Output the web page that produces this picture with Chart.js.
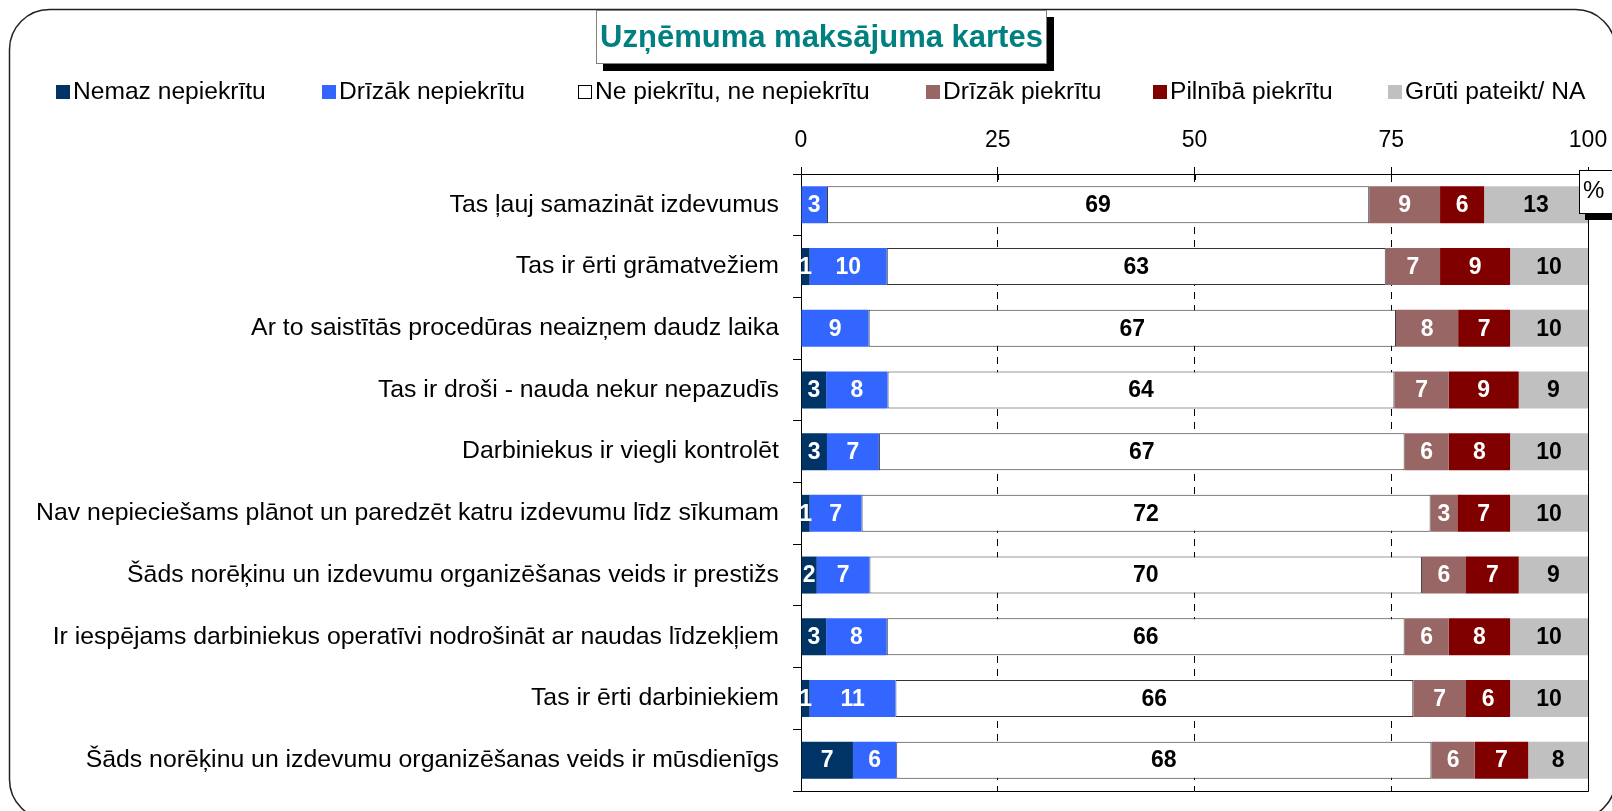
<!DOCTYPE html>
<html lang="lv">
<head>
  <meta charset="UTF-8">
  <title>Uzņēmuma maksājuma kartes</title>
  <script src="https://cdn.jsdelivr.net/npm/chart.js"></script>
  <style>
    * { margin: 0; padding: 0; box-sizing: border-box; }
    body { background: #fff; overflow: hidden; }
    canvas { display: block; }
  </style>
</head>
<body>
  <canvas id="chart" width="1612" height="811"></canvas>

  <script>
    const titleText = 'Uzņēmuma maksājuma kartes';

    const categories = [
      'Tas ļauj samazināt izdevumus',
      'Tas ir ērti grāmatvežiem',
      'Ar to saistītās procedūras neaizņem daudz laika',
      'Tas ir droši - nauda nekur nepazudīs',
      'Darbiniekus ir viegli kontrolēt',
      'Nav nepieciešams plānot un paredzēt katru izdevumu līdz sīkumam',
      'Šāds norēķinu un izdevumu organizēšanas veids ir prestižs',
      'Ir iespējams darbiniekus operatīvi nodrošināt ar naudas līdzekļiem',
      'Tas ir ērti darbiniekiem',
      'Šāds norēķinu un izdevumu organizēšanas veids ir mūsdienīgs'
    ];

    const seriesNames = [
      'Nemaz nepiekrītu',
      'Drīzāk nepiekrītu',
      'Ne piekrītu, ne nepiekrītu',
      'Drīzāk piekrītu',
      'Pilnībā piekrītu',
      'Grūti pateikt/ NA'
    ];

    // percentages (labels show them rounded)
    const nemaz      = [0,   1.1, 0,   3.2,  3.3,  1.1,  2.0,  3.2,  1.1,  6.6];
    const drizakNe   = [3.3, 9.8, 8.6, 7.8,  6.6,  6.6,  6.7,  7.7,  10.9, 5.5];
    const neitrali   = [68.9, 63.4, 67.0, 64.4, 66.8, 72.3, 70.2, 65.8, 65.8, 68.0];
    const drizakJa   = [9.0, 6.9, 7.9, 6.9,  5.6,  3.4,  5.6,  5.6,  6.7,  5.5];
    const pilnibaJa  = [5.6, 8.9, 6.6, 8.9,  7.8,  6.7,  6.7,  7.8,  5.6,  6.8];
    const gruti      = [13.2, 9.9, 9.9, 8.8, 9.9,  9.9,  8.8,  9.9,  9.9,  7.6];

    const xTicks = [0, 25, 50, 75, 100];

    const seriesColors = ['#003366', '#3366FF', '#FFFFFF', '#996666', '#800000', '#C0C0C0'];
    const labelColors = ['#fff', '#fff', '#000', '#fff', '#fff', '#000'];
    const seriesValues = [nemaz, drizakNe, neitrali, drizakJa, pilnibaJa, gruti];

    const FONT = "'Liberation Sans', Arial, sans-serif";

    const datasets = seriesValues.map((vals, i) => ({
      label: seriesNames[i],
      data: vals,
      backgroundColor: seriesColors[i],
      borderColor: i === 2 ? '#333333' : seriesColors[i],
      borderWidth: i === 2 ? 1 : 0,
      borderSkipped: false,
      barPercentage: 0.6,
      categoryPercentage: 1.0
    }));

    const backgroundPlugin = {
      id: 'bg',
      beforeDraw(chart) {
        const ctx = chart.ctx;
        ctx.save();
        ctx.fillStyle = '#fff';
        ctx.fillRect(0, 0, chart.width, chart.height);
        ctx.restore();
      }
    };

    // value labels in the middle of each segment
    const valueLabels = {
      id: 'valueLabels',
      afterDatasetsDraw(chart) {
        const ctx = chart.ctx;
        ctx.save();
        ctx.font = 'bold 23px ' + FONT;
        ctx.textAlign = 'center';
        ctx.textBaseline = 'middle';
        chart.data.datasets.forEach((ds, i) => {
          const meta = chart.getDatasetMeta(i);
          meta.data.forEach((bar, j) => {
            const v = Math.round(ds.data[j]);
            if (v < 1) return;
            ctx.fillStyle = labelColors[i];
            ctx.fillText(String(v), (bar.x + bar.base) / 2, bar.y + 1);
          });
        });
        ctx.restore();
      }
    };

    // frame, title box, legend, plot border, % box
    const decorations = {
      id: 'decorations',
      afterDraw(chart) {
        const ctx = chart.ctx;
        const area = chart.chartArea;
        ctx.save();

        // plot area right + bottom edge
        ctx.strokeStyle = '#000';
        ctx.lineWidth = 1;
        ctx.beginPath();
        ctx.moveTo(Math.round(area.right) + 0.5, area.top);
        ctx.lineTo(Math.round(area.right) + 0.5, Math.round(area.bottom) + 0.5);
        ctx.lineTo(area.left, Math.round(area.bottom) + 0.5);
        ctx.stroke();

        // x tick marks reach a little below the axis line
        const xs = chart.scales.x;
        ctx.beginPath();
        xTicks.forEach(v => {
          const px = Math.round(xs.getPixelForValue(v)) + 0.5;
          ctx.moveTo(px, area.top);
          ctx.lineTo(px, area.top + 6);
        });
        ctx.stroke();

        // outer rounded frame
        ctx.strokeStyle = '#222';
        ctx.lineWidth = 1.5;
        ctx.beginPath();
        ctx.roundRect(9.5, 9.5, 1606, 810, 40);
        ctx.stroke();

        // title box with shadow
        ctx.fillStyle = '#000';
        ctx.fillRect(603, 17, 451, 54);
        ctx.fillStyle = '#fff';
        ctx.fillRect(596, 10, 451, 54);
        ctx.strokeStyle = '#808080';
        ctx.lineWidth = 1;
        ctx.strokeRect(596.5, 10.5, 450, 53);
        ctx.fillStyle = '#008080';
        ctx.font = 'bold 31px ' + FONT;
        ctx.textAlign = 'center';
        ctx.textBaseline = 'middle';
        ctx.fillText(titleText, 821.5, 38);

        // legend
        const legendX = [56, 322, 578, 926, 1153, 1388];
        ctx.font = '24.6px ' + FONT;
        ctx.textAlign = 'left';
        seriesNames.forEach((name, i) => {
          const x = legendX[i];
          ctx.fillStyle = seriesColors[i];
          ctx.fillRect(x, 85, 14, 14);
          if (i === 2) {
            ctx.strokeStyle = '#000';
            ctx.strokeRect(x + 0.5, 85.5, 13, 13);
          }
          ctx.fillStyle = '#000';
          ctx.fillText(name, x + 17, 92);
        });

        // % unit box
        ctx.fillStyle = '#000';
        ctx.fillRect(1585, 176, 40, 44);
        ctx.fillStyle = '#fff';
        ctx.fillRect(1579, 170, 40, 44);
        ctx.strokeStyle = '#000';
        ctx.strokeRect(1579.5, 170.5, 40, 43);
        ctx.fillStyle = '#000';
        ctx.font = '24px ' + FONT;
        ctx.fillText('%', 1583, 191);

        ctx.restore();
      }
    };

    new Chart(document.getElementById('chart'), {
      type: 'bar',
      data: { labels: categories, datasets: datasets },
      plugins: [backgroundPlugin, valueLabels, decorations],
      options: {
        indexAxis: 'y',
        responsive: false,
        animation: false,
        events: [],
        layout: { padding: { top: 120, right: 24, bottom: 20, left: 0 } },
        plugins: {
          legend: { display: false },
          title: { display: false },
          tooltip: { enabled: false }
        },
        scales: {
          x: {
            position: 'top',
            stacked: true,
            min: 0,
            max: 100,
            afterBuildTicks(scale) {
              scale.ticks = xTicks.map(v => ({ value: v }));
            },
            afterFit(scale) {
              scale.height = 54;
              scale.paddingLeft = 0;
              scale.paddingRight = 0;
            },
            ticks: {
              color: '#000',
              font: { family: FONT, size: 23 },
              padding: 13
            },
            grid: {
              color: '#000',
              lineWidth: 1,
              tickLength: 7,
              tickColor: '#000'
            },
            border: { display: true, color: '#000', width: 1, dash: [7, 6] }
          },
          y: {
            stacked: true,
            afterFit(scale) {
              scale.width = 801;
              scale.paddingTop = 0;
              scale.paddingBottom = 0;
            },
            ticks: {
              color: '#000',
              font: { family: FONT, size: 24.8 },
              padding: 14
            },
            grid: {
              offset: true,
              drawOnChartArea: false,
              tickLength: 8,
              color: '#000'
            },
            border: { display: true, color: '#000', width: 1 }
          }
        }
      }
    });
  </script>
</body>
</html>
